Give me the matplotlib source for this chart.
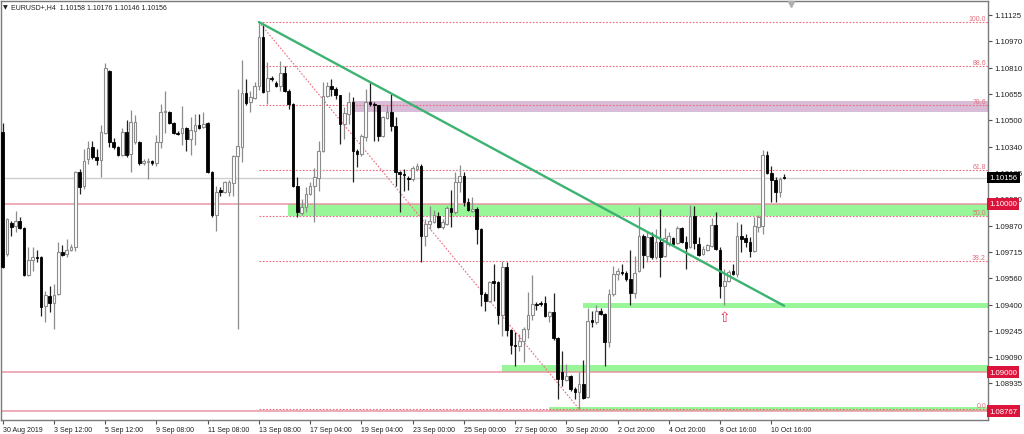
import matplotlib
matplotlib.use('Agg')
import matplotlib.pyplot as plt
import numpy as np
from matplotlib.transforms import blended_transform_factory

# ---------------- data (EURUSD H4) ----------------
opens = [1.10427, 1.09701, 1.09886, 1.09868, 1.09898, 1.09856, 1.09577, 1.09666, 1.09683, 1.09683,
         1.09392, 1.09452, 1.09410, 1.09464, 1.09713, 1.09701, 1.09725, 1.09743, 1.10189, 1.10106,
         1.10267, 1.10338, 1.10278, 1.10261, 1.10421, 1.10790, 1.10368, 1.10338, 1.10290, 1.10427,
         1.10296, 1.10368, 1.10368, 1.10243, 1.10249, 1.10255, 1.10243, 1.10368, 1.10546, 1.10546,
         1.10480, 1.10421, 1.10421, 1.10451, 1.10386, 1.10433, 1.10468, 1.10457, 1.10480, 1.10189,
         1.09933, 1.10082, 1.10070, 1.10070, 1.10124, 1.10284, 1.10338, 1.10659, 1.10605, 1.10629,
         1.10700, 1.10992, 1.10671, 1.10748, 1.10718, 1.10700, 1.10778, 1.10671, 1.10593, 1.10106,
         1.09945, 1.09981, 1.10058, 1.10106, 1.10154, 1.10314, 1.10641, 1.10700, 1.10683, 1.10647,
         1.10474, 1.10534, 1.10605, 1.10314, 1.10296, 1.10397, 1.10605, 1.10593, 1.10587, 1.10403,
         1.10510, 1.10546, 1.10463, 1.10189, 1.10177, 1.10154, 1.10148, 1.10207, 1.10225, 1.09808,
         1.09880, 1.09892, 1.09927, 1.09862, 1.09880, 1.09975, 1.09951, 1.10130, 1.10165, 1.10011,
         1.09957, 1.09969, 1.09850, 1.09464, 1.09422, 1.09541, 1.09535, 1.09339, 1.09624, 1.09250,
         1.09161, 1.09155, 1.09184, 1.09256, 1.09339, 1.09404, 1.09410, 1.09410, 1.09333, 1.09357,
         1.09202, 1.09000, 1.08953, 1.08977, 1.08899, 1.08881, 1.08929, 1.08851, 1.09309, 1.09297,
         1.09363, 1.09345, 1.09178, 1.09464, 1.09583, 1.09595, 1.09589, 1.09553, 1.09470, 1.09601,
         1.09808, 1.09689, 1.09803, 1.09683, 1.09773, 1.09689, 1.09761, 1.09797, 1.09767, 1.09856,
         1.09773, 1.09743, 1.09927, 1.09761, 1.09701, 1.09725, 1.09749, 1.09874, 1.09725, 1.09511,
         1.09541, 1.09601, 1.09583, 1.09808, 1.09797, 1.09773, 1.09719, 1.09862, 1.09868, 1.10290,
         1.10183, 1.10142, 1.10070, 1.10158]
highs = [1.10480, 1.09915, 1.09898, 1.09957, 1.09921, 1.09860, 1.09743, 1.09743, 1.09725, 1.09689,
         1.09482, 1.09511, 1.09523, 1.09773, 1.09755, 1.09791, 1.09761, 1.10195, 1.10207, 1.10326,
         1.10374, 1.10374, 1.10326, 1.10468, 1.10837, 1.10795, 1.10391, 1.10344, 1.10451, 1.10498,
         1.10558, 1.10528, 1.10372, 1.10267, 1.10273, 1.10261, 1.10409, 1.10593, 1.10671, 1.10552,
         1.10484, 1.10433, 1.10582, 1.10455, 1.10516, 1.10534, 1.10534, 1.10546, 1.10484, 1.10195,
         1.10106, 1.10100, 1.10136, 1.10142, 1.10290, 1.10683, 1.10855, 1.10742, 1.10671, 1.10724,
         1.11081, 1.11063, 1.10843, 1.10760, 1.10730, 1.10849, 1.10819, 1.10683, 1.10597, 1.10159,
         1.10029, 1.10100, 1.10130, 1.10213, 1.10374, 1.10724, 1.10724, 1.10742, 1.10694, 1.10650,
         1.10576, 1.10665, 1.10635, 1.10326, 1.10415, 1.10683, 1.10724, 1.10605, 1.10590, 1.10522,
         1.10587, 1.10653, 1.10516, 1.10195, 1.10207, 1.10165, 1.10225, 1.10243, 1.10237, 1.09910,
         1.09987, 1.09963, 1.09951, 1.09910, 1.09987, 1.10082, 1.10189, 1.10231, 1.10189, 1.10035,
         1.10041, 1.09981, 1.09854, 1.09476, 1.09541, 1.09642, 1.09541, 1.09660, 1.09654, 1.09256,
         1.09238, 1.09226, 1.09268, 1.09476, 1.09577, 1.09416, 1.09422, 1.09452, 1.09363, 1.09470,
         1.09208, 1.09125, 1.09048, 1.08982, 1.08911, 1.09000, 1.09071, 1.09381, 1.09363, 1.09398,
         1.09381, 1.09349, 1.09494, 1.09630, 1.09619, 1.09642, 1.09601, 1.09725, 1.09689, 1.09981,
         1.09820, 1.09832, 1.09832, 1.09850, 1.09969, 1.09856, 1.09832, 1.09803, 1.09868, 1.09862,
         1.09808, 1.09993, 1.09987, 1.09803, 1.09749, 1.09761, 1.09915, 1.09951, 1.09743, 1.09613,
         1.09607, 1.09642, 1.09892, 1.09880, 1.09820, 1.09803, 1.09921, 1.09933, 1.10320, 1.10314,
         1.10225, 1.10159, 1.10159, 1.10176]
lows = [1.09620, 1.09689, 1.09808, 1.09832, 1.09850, 1.09571, 1.09573, 1.09601, 1.09654, 1.09333,
        1.09297, 1.09357, 1.09256, 1.09460, 1.09689, 1.09683, 1.09719, 1.09719, 1.10058, 1.10088,
        1.10237, 1.10267, 1.10231, 1.10159, 1.10415, 1.10338, 1.10326, 1.10284, 1.10284, 1.10278,
        1.10189, 1.10356, 1.10231, 1.10231, 1.10148, 1.10231, 1.10225, 1.10330, 1.10421, 1.10474,
        1.10415, 1.10409, 1.10350, 1.10314, 1.10290, 1.10350, 1.10445, 1.10451, 1.10185, 1.09921,
        1.09838, 1.10046, 1.10066, 1.10046, 1.10046, 1.09256, 1.10249, 1.10587, 1.10546, 1.10623,
        1.10677, 1.10660, 1.10593, 1.10730, 1.10694, 1.10671, 1.10665, 1.10564, 1.10100, 1.09921,
        1.09933, 1.09951, 1.10052, 1.09892, 1.10076, 1.10308, 1.10635, 1.10641, 1.10623, 1.10356,
        1.10386, 1.10474, 1.10130, 1.10219, 1.10284, 1.10374, 1.10582, 1.10374, 1.10374, 1.10397,
        1.10504, 1.10433, 1.10106, 1.09951, 1.10076, 1.10082, 1.10136, 1.10195, 1.09654, 1.09749,
        1.09850, 1.09886, 1.09856, 1.09850, 1.09874, 1.09862, 1.09939, 1.10070, 1.09987, 1.09957,
        1.09951, 1.09761, 1.09392, 1.09363, 1.09416, 1.09422, 1.09285, 1.09214, 1.09214, 1.09107,
        1.09036, 1.09125, 1.09059, 1.09202, 1.09309, 1.09369, 1.09392, 1.09327, 1.09297, 1.09190,
        1.08840, 1.08917, 1.08947, 1.08887, 1.08840, 1.08780, 1.08840, 1.08845, 1.09268, 1.09285,
        1.09339, 1.09036, 1.09149, 1.09452, 1.09547, 1.09577, 1.09541, 1.09398, 1.09440, 1.09595,
        1.09619, 1.09654, 1.09672, 1.09672, 1.09565, 1.09683, 1.09749, 1.09755, 1.09761, 1.09767,
        1.09613, 1.09737, 1.09731, 1.09689, 1.09695, 1.09719, 1.09743, 1.09725, 1.09440, 1.09398,
        1.09535, 1.09577, 1.09565, 1.09713, 1.09743, 1.09683, 1.09713, 1.09832, 1.09820, 1.10177,
        1.10011, 1.10011, 1.10041, 1.10146]
closes = [1.09624, 1.09910, 1.09862, 1.09898, 1.09856, 1.09577, 1.09666, 1.09683, 1.09677, 1.09386,
          1.09458, 1.09410, 1.09458, 1.09713, 1.09695, 1.09725, 1.09743, 1.10189, 1.10100, 1.10255,
          1.10332, 1.10278, 1.10261, 1.10427, 1.10807, 1.10368, 1.10338, 1.10290, 1.10427, 1.10290,
          1.10486, 1.10486, 1.10243, 1.10255, 1.10255, 1.10243, 1.10368, 1.10546, 1.10552, 1.10480,
          1.10421, 1.10415, 1.10451, 1.10386, 1.10439, 1.10468, 1.10451, 1.10474, 1.10189, 1.09933,
          1.10070, 1.10070, 1.10130, 1.10130, 1.10284, 1.10344, 1.10659, 1.10599, 1.10635, 1.10700,
          1.10992, 1.10665, 1.10748, 1.10742, 1.10700, 1.10778, 1.10671, 1.10593, 1.10106, 1.09951,
          1.09981, 1.10058, 1.10106, 1.10159, 1.10314, 1.10641, 1.10700, 1.10683, 1.10647, 1.10474,
          1.10540, 1.10605, 1.10314, 1.10296, 1.10403, 1.10605, 1.10593, 1.10587, 1.10403, 1.10516,
          1.10546, 1.10463, 1.10189, 1.10177, 1.10171, 1.10148, 1.10213, 1.10225, 1.09808, 1.09880,
          1.09898, 1.09933, 1.09862, 1.09892, 1.09975, 1.09951, 1.10130, 1.10165, 1.10011, 1.09963,
          1.09969, 1.09850, 1.09464, 1.09422, 1.09535, 1.09529, 1.09339, 1.09624, 1.09250, 1.09161,
          1.09155, 1.09184, 1.09256, 1.09339, 1.09404, 1.09401, 1.09407, 1.09333, 1.09357, 1.09202,
          1.08959, 1.08959, 1.08977, 1.08899, 1.08881, 1.08929, 1.08845, 1.09303, 1.09297, 1.09363,
          1.09345, 1.09178, 1.09464, 1.09583, 1.09601, 1.09589, 1.09553, 1.09470, 1.09589, 1.09808,
          1.09695, 1.09803, 1.09683, 1.09773, 1.09683, 1.09797, 1.09808, 1.09761, 1.09856, 1.09773,
          1.09737, 1.09927, 1.09767, 1.09695, 1.09731, 1.09755, 1.09874, 1.09731, 1.09511, 1.09541,
          1.09595, 1.09583, 1.09808, 1.09791, 1.09773, 1.09719, 1.09868, 1.09921, 1.10290, 1.10183,
          1.10142, 1.10070, 1.10148, 1.10156]

time_tick_idx = [0, 12, 24, 36, 48, 60, 72, 84, 96, 108, 120, 132, 144, 156, 168, 180]
time_tick_labels = ["30 Aug 2019", "3 Sep 12:00", "5 Sep 12:00", "9 Sep 08:00", "11 Sep 08:00",
                    "13 Sep 08:00", "17 Sep 04:00", "19 Sep 04:00", "23 Sep 00:00", "25 Sep 00:00",
                    "27 Sep 00:00", "30 Sep 20:00", "2 Oct 20:00", "4 Oct 20:00", "8 Oct 16:00",
                    "10 Oct 16:00"]
price_ticks = [1.11125, 1.10970, 1.10810, 1.10655, 1.10500, 1.10340, 1.10185, 1.10030,
               1.09870, 1.09715, 1.09560, 1.09400, 1.09245, 1.09090, 1.08935]

bid_price = 1.10156
hlines_red = [1.10000, 1.09000, 1.08767]
# zones: (start index, low price, high price)
green_zones = [(66.9, 1.09927, 1.10000), (135.8, 1.09383, 1.09408),
               (116.9, 1.09000, 1.09042), (127.9, 1.08767, 1.08790)]
purple_zone = (81.8, 1.10544, 1.10613)
fib_hi_idx, fib_lo_idx = 60, 135
fib_levels = [0.0, 38.2, 50.0, 61.8, 78.6, 88.6, 100.0]
trend_start = (60, 1.11081)
trend_end = (183, 1.09394)
arrow_pos = (169, 1.09327)
title_text = "EURUSD+,H4  1.10158 1.10176 1.10146 1.10156"

FONT = 'Liberation Sans'

# ---------------- figure ----------------
W, H = 1024, 435
fig = plt.figure(figsize=(W / 100, H / 100), dpi=100)
fig.patch.set_facecolor('white')
ax = fig.add_axes([1 / W, 14 / H, 987 / W, 419 / H])
ax.set_facecolor('white')

o = np.array(opens); h = np.array(highs); l = np.array(lows); c = np.array(closes)
x = np.arange(len(o))

ax.set_xlim(-0.40, 230.75)
ax.set_ylim(1.08715, 1.11206)

xmax = ax.get_xlim()[1]

# zones
for (xs, lo, hi) in green_zones:
    ax.fill_between([xs, xmax], lo, hi, color='#98f598', lw=0, zorder=1)
ax.fill_between([purple_zone[0], xmax], purple_zone[1], purple_zone[2],
                color='#d8bcd8', lw=0, zorder=1)

# horizontal lines
ax.axhline(bid_price, color='#cfcfcf', lw=1.0, zorder=1.5)
for p in hlines_red:
    ax.axhline(p, color='#e8909f', lw=1.3, alpha=0.8, zorder=1.6)

# fibonacci
fh, fl = h[fib_hi_idx], l[fib_lo_idx]
btr = blended_transform_factory(ax.transAxes, ax.transData)
for lv in fib_levels:
    pv = fl + lv / 100.0 * (fh - fl)
    ax.plot([fib_hi_idx, xmax], [pv, pv], color='#f06a7c', lw=0.8,
            ls=(0, (1.5, 1.5)), zorder=1.8)
    ax.text(0.998, pv, f"{lv:.1f}", transform=btr, family=FONT,
            ha='right', va='bottom', fontsize=5.0, color='#e0707e', zorder=5)
ax.plot([fib_hi_idx, fib_lo_idx], [fh, fl], color='#f06a7c', lw=0.8,
        ls=(0, (1.5, 1.5)), zorder=1.8)

# candles
up = c >= o
dn = ~up
ax.vlines(x[up], l[up], h[up], color='#8c8c8c', lw=0.9, zorder=3)
ax.vlines(x[dn], l[dn], h[dn], color='#202020', lw=0.9, zorder=3)
minh = 0.000025
bw = 0.62
ax.bar(x[up], np.maximum(c[up] - o[up], minh), bottom=o[up], width=bw,
       facecolor='white', edgecolor='#8c8c8c', lw=0.8, zorder=4)
ax.bar(x[dn], np.maximum(o[dn] - c[dn], minh), bottom=c[dn], width=bw,
       facecolor='black', edgecolor='black', lw=0.6, zorder=4)

# trend line
ax.plot([trend_start[0], trend_end[0]], [trend_start[1], trend_end[1]],
        color='#3cb371', lw=1.7, zorder=5, solid_capstyle='round')

# arrow
ax.text(arrow_pos[0], arrow_pos[1], '\u21e7', color='#e8304e', fontsize=10,
        family='DejaVu Sans', ha='center', va='center', zorder=6)

# axes styling
for s in ax.spines.values():
    s.set_color('#7a7a7a')
    s.set_linewidth(1.0)

ax.yaxis.tick_right()
ax.set_yticks(price_ticks)
ax.set_yticklabels([f"{p:.5f}" for p in price_ticks], family=FONT)
ax.tick_params(axis='y', direction='out', length=3, width=0.8, color='#505050',
               labelsize=5.6, pad=1.5, labelcolor='#202020')

ax.set_xticks(time_tick_idx)
ax.set_xticklabels(time_tick_labels, family=FONT)
ax.tick_params(axis='x', direction='out', length=3, width=0.8, color='#505050',
               labelsize=5.0, pad=1.5, labelcolor='#202020')
for lab in ax.get_xticklabels():
    lab.set_horizontalalignment('left')

# boxed price labels on the scale
ax.text(1.0012, bid_price, f"{bid_price:.5f}", transform=btr, ha='left', va='center',
        fontsize=5.6, family=FONT, color='white', zorder=10, clip_on=False,
        bbox=dict(boxstyle='square,pad=0.3', fc='black', ec='none'))
for p in hlines_red:
    ax.text(1.0012, p, f"{p:.5f}", transform=btr, ha='left', va='center',
            fontsize=5.6, family=FONT, color='white', zorder=10, clip_on=False,
            bbox=dict(boxstyle='square,pad=0.3', fc='#dc143c', ec='none'))

# title and shift marker
fig.text(3 / W, 1 - 8 / H, '\u25bc', fontsize=4.5, family='DejaVu Sans',
         color='#202020', va='center', ha='left')
fig.text(11 / W, 1 - 8 / H, title_text, fontsize=5.0, family=FONT,
         color='#202020', va='center', ha='left')
ax.plot([790 / 987], [0.992], marker='v', color='#b0b0b0', markersize=4,
        transform=ax.transAxes, clip_on=False, zorder=10)

fig.savefig('out.png', dpi=100, facecolor='white')
